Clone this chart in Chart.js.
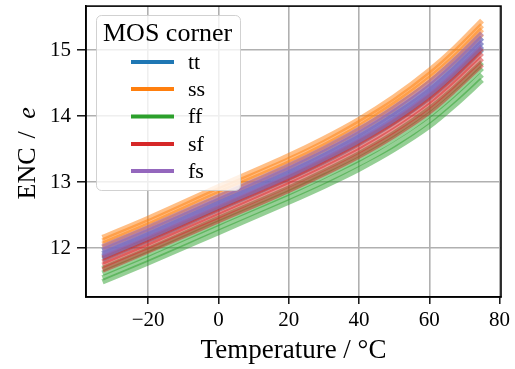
<!DOCTYPE html>
<html>
<head>
<meta charset="utf-8">
<script src="https://cdn.jsdelivr.net/npm/chart.js@4.4.1/dist/chart.umd.min.js"></script>
<style>
html,body{margin:0;padding:0;background:#fff;}
canvas{display:block;}
</style>
</head>
<body>
<canvas id="c" width="515" height="369"></canvas>
<script>
// ---- data ----
const temperatures = [-33, -20, 0, 20, 30, 40, 50, 60, 67, 75];
const xTickValues = [-20, 0, 20, 40, 60, 80];
const yTickValues = [12, 13, 14, 15];
const cornerNames = ['tt', 'ss', 'ff', 'sf', 'fs'];

const ttRuns = [
  [11.96, 12.25, 12.72, 13.19, 13.45, 13.73, 14.06, 14.44, 14.77, 15.19],
  [11.91, 12.20, 12.68, 13.14, 13.40, 13.68, 14.01, 14.38, 14.71, 15.12],
  [11.87, 12.16, 12.63, 13.10, 13.35, 13.63, 13.95, 14.33, 14.65, 15.06],
  [11.83, 12.12, 12.59, 13.06, 13.31, 13.59, 13.91, 14.28, 14.60, 15.01]
];
const ssRuns = [
  [12.16, 12.45, 12.93, 13.40, 13.66, 13.95, 14.29, 14.69, 15.02, 15.45],
  [12.11, 12.40, 12.88, 13.34, 13.60, 13.90, 14.23, 14.63, 14.96, 15.38],
  [12.06, 12.35, 12.83, 13.29, 13.55, 13.84, 14.18, 14.57, 14.89, 15.32],
  [12.01, 12.30, 12.77, 13.24, 13.50, 13.79, 14.12, 14.51, 14.83, 15.25]
];
const ffRuns = [
  [11.69, 11.98, 12.45, 12.91, 13.16, 13.43, 13.74, 14.11, 14.42, 14.82],
  [11.62, 11.91, 12.38, 12.84, 13.09, 13.35, 13.66, 14.02, 14.33, 14.73],
  [11.55, 11.84, 12.31, 12.77, 13.01, 13.28, 13.57, 13.93, 14.24, 14.63],
  [11.49, 11.78, 12.24, 12.70, 12.94, 13.20, 13.50, 13.85, 14.16, 14.55]
];
const sfRuns = [
  [11.85, 12.14, 12.61, 13.07, 13.33, 13.61, 13.92, 14.30, 14.62, 15.03],
  [11.79, 12.08, 12.55, 13.02, 13.27, 13.54, 13.86, 14.23, 14.55, 14.96],
  [11.74, 12.03, 12.49, 12.96, 13.21, 13.48, 13.79, 14.16, 14.48, 14.88],
  [11.67, 11.96, 12.42, 12.88, 13.13, 13.40, 13.71, 14.07, 14.39, 14.79]
];
const fsRuns = [
  [12.02, 12.31, 12.78, 13.25, 13.51, 13.80, 14.13, 14.51, 14.84, 15.26],
  [11.97, 12.26, 12.73, 13.20, 13.45, 13.74, 14.07, 14.45, 14.78, 15.19],
  [11.92, 12.21, 12.68, 13.15, 13.40, 13.69, 14.01, 14.39, 14.71, 15.13],
  [11.88, 12.17, 12.64, 13.10, 13.36, 13.64, 13.96, 14.34, 14.66, 15.07]
];
const runsByCorner = [ttRuns, ssRuns, ffRuns, sfRuns, fsRuns];

// ---- styles ----
const cornerColors = ['31,119,180', '255,127,14', '44,160,44', '214,39,40', '148,103,189'];
const FONT = '"Liberation Serif", "DejaVu Serif", serif';

const datasets = [];
runsByCorner.forEach((runs, ci) => {
  runs.forEach((run, ri) => {
    datasets.push({
      label: cornerNames[ci],
      data: temperatures.map((t, i) => ({x: t, y: run[i]})),
      borderColor: 'rgba(' + cornerColors[ci] + ',0.5)',
      borderWidth: 5.5,
      pointRadius: 0,
      cubicInterpolationMode: 'monotone',
      borderCapStyle: 'butt',
      fill: false,
      order: 10 * (cornerNames.length - ci) - ri
    });
  });
});

const overlay = {
  id: 'overlay',
  afterDatasetsDraw(chart) {
    const ctx = chart.ctx;
    ctx.save();
    // legend box
    const bx = 96.5, by = 15.5, bw = 144, bh = 175, r = 5;
    ctx.beginPath();
    ctx.moveTo(bx + r, by);
    ctx.arcTo(bx + bw, by, bx + bw, by + bh, r);
    ctx.arcTo(bx + bw, by + bh, bx, by + bh, r);
    ctx.arcTo(bx, by + bh, bx, by, r);
    ctx.arcTo(bx, by, bx + bw, by, r);
    ctx.closePath();
    ctx.fillStyle = 'rgba(255,255,255,0.8)';
    ctx.fill();
    ctx.strokeStyle = 'rgba(204,204,204,0.9)';
    ctx.lineWidth = 1;
    ctx.stroke();
    ctx.fillStyle = '#000';
    ctx.textBaseline = 'middle';
    ctx.textAlign = 'left';
    ctx.font = '26px ' + FONT;
    ctx.fillText('MOS corner', 103, 34);
    const rows = [62, 89, 116.5, 144, 171];
    ctx.font = '22px ' + FONT;
    cornerNames.forEach((n, i) => {
      ctx.strokeStyle = 'rgb(' + cornerColors[i] + ')';
      ctx.lineWidth = 4;
      ctx.beginPath();
      ctx.moveTo(131, rows[i]);
      ctx.lineTo(174, rows[i]);
      ctx.stroke();
      ctx.fillText(n, 188, rows[i] + 1);
    });
    ctx.restore();
  },
  afterDraw(chart) {
    const ctx = chart.ctx, a = chart.chartArea;
    ctx.save();
    ctx.strokeStyle = '#000';
    ctx.lineWidth = 1.6;
    ctx.strokeRect(a.left, a.top, a.right - a.left, a.bottom - a.top);
    // y-axis title "ENC / e" (e in italic)
    ctx.translate(28, 0);
    ctx.rotate(-Math.PI / 2);
    ctx.fillStyle = '#000';
    ctx.textBaseline = 'middle';
    ctx.textAlign = 'center';
    ctx.font = '26px ' + FONT;
    ctx.fillText('ENC', -173.5, 0);
    ctx.fillText('/', -135, 0);
    ctx.font = 'italic 26px ' + FONT;
    ctx.fillText('e', -113, 0);
    ctx.restore();
  }
};

new Chart(document.getElementById('c'), {
  type: 'line',
  data: {datasets},
  plugins: [overlay],
  options: {
    responsive: false,
    animation: false,
    devicePixelRatio: 1,
    layout: {padding: {top: 6, right: 14, left: 0, bottom: 0}},
    plugins: {legend: {display: false}, tooltip: {enabled: false}},
    scales: {
      x: {
        type: 'linear',
        min: -37.7, max: 80.4,
        afterFit(s) { s.height = 72; },
        afterBuildTicks(s) { s.ticks = xTickValues.map(v => ({value: v})); },
        grid: {color: '#b0b0b0', lineWidth: 1.6, tickColor: '#000', tickWidth: 1.4, tickLength: 7},
        border: {display: true, color: '#000', width: 1.6},
        ticks: {
          color: '#000', padding: 4,
          font: {family: FONT, size: 21},
          callback: v => (v < 0 ? '\u2212' + Math.abs(v) : String(v))
        },
        title: {display: true, text: 'Temperature / \u00B0C', color: '#000',
          font: {family: FONT, size: 27}, padding: {top: 0, bottom: 2}}
      },
      y: {
        type: 'linear',
        min: 11.26, max: 15.67,
        afterFit(s) { s.width = 86; },
        afterBuildTicks(s) { s.ticks = yTickValues.map(v => ({value: v})); },
        grid: {color: '#b0b0b0', lineWidth: 1.6, tickColor: '#000', tickWidth: 1.4, tickLength: 9},
        border: {display: true, color: '#000', width: 1.6},
        ticks: {color: '#000', padding: 6, font: {family: FONT, size: 21, lineHeight: 0.01}}
      }
    }
  }
});
</script>
</body>
</html>
